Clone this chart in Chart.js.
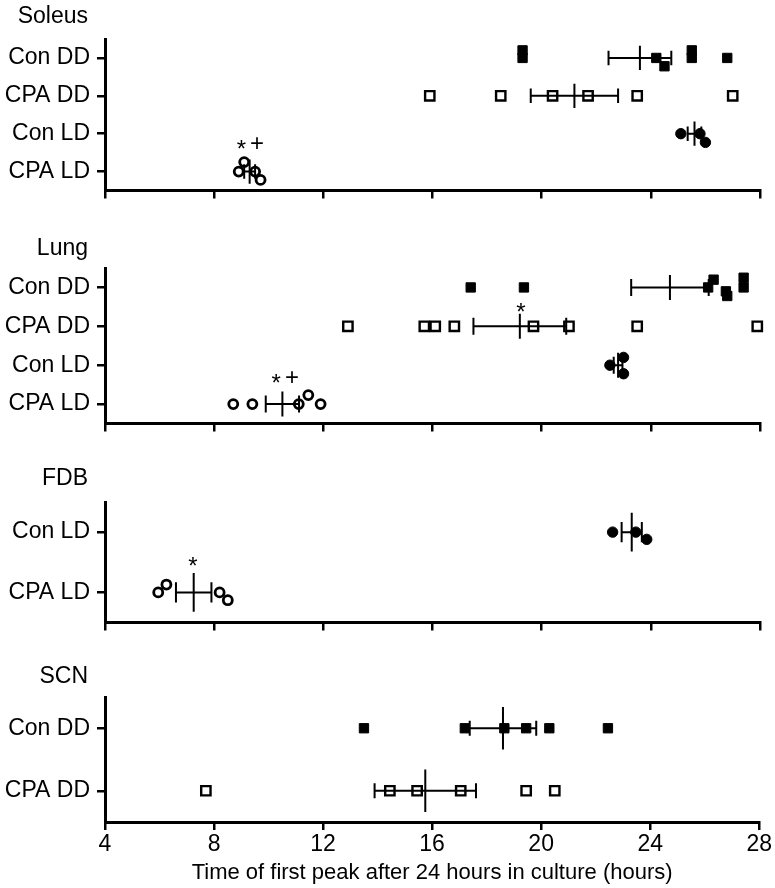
<!DOCTYPE html>
<html>
<head>
<meta charset="utf-8">
<script src="https://cdn.jsdelivr.net/npm/chart.js@4.4.1/dist/chart.umd.min.js"></script>
<style>
  body { margin: 0; background: #fff; }
  #wrap { position: relative; width: 775px; height: 888px; }
  #wrap canvas { position: absolute; left: 0; }
</style>
</head>
<body>
<div id="wrap">
  <canvas id="soleus"></canvas>
  <canvas id="lung"></canvas>
  <canvas id="fdb"></canvas>
  <canvas id="scn"></canvas>
</div>
<script>
// x axis (hours), shared by all four panels
const xTicks = [4, 8, 12, 16, 20, 24, 28];
const xTitle = "Time of first peak after 24 hours in culture (hours)";

// Soleus
const soleusGroups = ["Con DD", "CPA DD", "Con LD", "CPA LD"];
const soleusConDD = [19.3, 19.3, 24.2, 24.5, 25.5, 25.5, 26.8];
const soleusConDDShift = [-0.2, 0, 0, 0.22, -0.2, 0, 0];
const soleusCpaDD = [15.9, 18.5, 20.4, 21.7, 23.5, 27.0];
const soleusConLD = [25.1, 25.8, 26.0];
const soleusConLDShift = [0, 0, 0.23];
const soleusCpaLD = [8.9, 9.1, 9.5, 9.7];
const soleusCpaLDShift = [0, -0.25, 0, 0.22];
const soleusMean = [23.6, 21.2, 25.6, 9.3];
const soleusSem = [1.15, 1.6, 0.25, 0.2];
const soleusMarks = [{ x: 9.0, y: 2.28, t: "*" }, { x: 9.57, y: 2.28, t: "+" }];

// Lung
const lungGroups = ["Con DD", "CPA DD", "Con LD", "CPA LD"];
const lungConDD = [17.4, 19.35, 26.1, 26.3, 26.75, 26.8, 27.4, 27.4];
const lungConDDShift = [0, 0, 0, -0.2, 0.1, 0.22, -0.25, 0];
const lungCpaDD = [12.9, 15.7, 16.1, 16.8, 19.7, 21.0, 23.5, 27.9];
const lungConLD = [22.5, 23.0, 23.0];
const lungConLDShift = [0, -0.2, 0.22];
const lungCpaLD = [8.7, 9.4, 11.1, 11.45, 11.9];
const lungCpaLDShift = [0, 0, 0, -0.23, 0];
const lungMean = [24.7, 19.2, 22.8, 10.5];
const lungSem = [1.42, 1.7, 0.16, 0.61];
const lungMarks = [
  { x: 10.27, y: 2.34, t: "*" },
  { x: 10.85, y: 2.34, t: "+" },
  { x: 19.24, y: 0.5, t: "*" },
];

// FDB
const fdbGroups = ["Con LD", "CPA LD"];
const fdbConLD = [22.6, 23.45, 23.85];
const fdbConLDShift = [0, 0, 0.12];
const fdbCpaLD = [5.95, 6.25, 8.2, 8.5];
const fdbCpaLDShift = [0, -0.13, 0, 0.13];
const fdbMean = [23.3, 7.25];
const fdbSem = [0.37, 0.65];
const fdbMarks = [{ x: 7.22, y: 0.48, t: "*" }];

// SCN
const scnGroups = ["Con DD", "CPA DD"];
const scnConDD = [13.5, 17.2, 18.65, 19.45, 20.3, 22.45];
const scnCpaDD = [7.7, 14.45, 15.45, 17.05, 19.45, 20.5];
const scnMean = [18.6, 15.75];
const scnSem = [1.22, 1.86];

const FONT = "'Liberation Sans', Arial, sans-serif";
Chart.defaults.font.family = FONT;
Chart.defaults.color = "#000";

function makeSets(groups, values, shifts) {
  return groups.map((g, i) => {
    const filled = g.startsWith("Con");
    const square = g.endsWith("DD");
    return {
      label: g,
      data: values[i].map((v, k) => ({ x: v, y: i + (shifts[i] ? shifts[i][k] : 0) })),
      pointStyle: square ? "rect" : "circle",
      pointRadius: square ? 6.6 : filled ? 5.2 : 4.5,
      borderWidth: filled ? 1 : square ? 2.4 : 2.8,
      backgroundColor: filled ? "#000" : "rgba(0,0,0,0)",
      borderColor: "#000",
      clip: false,
    };
  });
}

// mean line, SEM bar, significance marks and panel title
const panelDecor = {
  id: "panelDecor",
  afterDatasetsDraw(chart, args, opts) {
    const ctx = chart.ctx;
    const xs = chart.scales.x;
    const ys = chart.scales.y;
    const unit = Math.abs(ys.getPixelForValue(1) - ys.getPixelForValue(0));
    ctx.save();
    ctx.strokeStyle = "#000";
    ctx.lineWidth = 2;
    opts.mean.forEach((m, i) => {
      const y = ys.getPixelForValue(i);
      const x0 = xs.getPixelForValue(m - opts.sem[i]);
      const x1 = xs.getPixelForValue(m + opts.sem[i]);
      const xm = xs.getPixelForValue(m);
      const cap = opts.capHalf * unit;
      const bar = opts.meanHalf * unit;
      ctx.beginPath();
      ctx.moveTo(x0, y); ctx.lineTo(x1, y);
      ctx.moveTo(x0, y - cap); ctx.lineTo(x0, y + cap);
      ctx.moveTo(x1, y - cap); ctx.lineTo(x1, y + cap);
      ctx.moveTo(xm, y - bar); ctx.lineTo(xm, y + bar);
      ctx.stroke();
    });
    ctx.fillStyle = "#000";
    ctx.font = "24px " + FONT;
    ctx.textAlign = "center";
    ctx.textBaseline = "middle";
    opts.marks.forEach((mk) => {
      const dy = mk.t === "*" ? 6 : 0;
      ctx.fillText(mk.t, xs.getPixelForValue(mk.x), ys.getPixelForValue(mk.y) + dy);
    });
    ctx.font = "23px " + FONT;
    ctx.textAlign = "right";
    ctx.textBaseline = "alphabetic";
    ctx.fillText(opts.title, 88, opts.titleY);
    ctx.restore();
  },
};

function buildPanel(id, cfg) {
  const el = document.getElementById(id);
  el.width = 775;
  el.height = cfg.height;
  el.style.top = cfg.top + "px";
  const groups = cfg.groups;
  return new Chart(el, {
    type: "scatter",
    data: { datasets: makeSets(groups, cfg.values, cfg.shifts) },
    options: {
      responsive: false,
      animation: false,
      events: [],
      layout: { padding: { top: 39, right: 15, left: 0, bottom: 0 } },
      plugins: {
        legend: { display: false },
        tooltip: { enabled: false },
        panelDecor: {
          title: cfg.title,
          titleY: cfg.titleY,
          mean: cfg.mean,
          sem: cfg.sem,
          marks: cfg.marks || [],
          capHalf: cfg.capHalf,
          meanHalf: cfg.meanHalf,
        },
      },
      scales: {
        x: {
          type: "linear",
          min: xTicks[0],
          max: xTicks[xTicks.length - 1],
          afterBuildTicks: (s) => { s.ticks = xTicks.map((v) => ({ value: v })); },
          ticks: {
            display: cfg.showX,
            autoSkip: false,
            maxRotation: 0,
            padding: 3,
            color: "#000",
            font: { size: 23, lineHeight: 1 },
          },
          grid: { drawOnChartArea: false, drawTicks: true, tickLength: 8, color: "#000", lineWidth: 2.5 },
          border: { display: true, color: "#000", width: 3 },
          title: {
            display: cfg.showX,
            text: xTitle,
            color: "#000",
            font: { size: 22, lineHeight: 1.2 },
            padding: { top: 4, bottom: 2 },
          },
          afterFit: (s) => { s.height = cfg.xHeight; },
        },
        y: {
          type: "linear",
          reverse: true,
          min: -0.5,
          max: groups.length - 0.5,
          afterBuildTicks: (s) => { s.ticks = groups.map((g, i) => ({ value: i })); },
          ticks: {
            autoSkip: false,
            padding: 7,
            color: "#000",
            font: { size: 23, lineHeight: 1 },
            callback: (v, i) => groups[i],
          },
          grid: { drawOnChartArea: false, drawTicks: true, tickLength: 8, color: "#000", lineWidth: 2.5 },
          border: { display: true, color: "#000", width: 3 },
          afterFit: (s) => { s.width = 105; },
        },
      },
    },
    plugins: [panelDecor],
  });
}

buildPanel("soleus", {
  title: "Soleus", titleY: 23, top: 0, height: 209, xHeight: 12, showX: false,
  groups: soleusGroups,
  values: [soleusConDD, soleusCpaDD, soleusConLD, soleusCpaLD],
  shifts: [soleusConDDShift, null, soleusConLDShift, soleusCpaLDShift],
  mean: soleusMean, sem: soleusSem, marks: soleusMarks,
  capHalf: 0.19, meanHalf: 0.32,
});

buildPanel("lung", {
  title: "Lung", titleY: 26, top: 229, height: 213, xHeight: 12, showX: false,
  groups: lungGroups,
  values: [lungConDD, lungCpaDD, lungConLD, lungCpaLD],
  shifts: [lungConDDShift, null, lungConLDShift, lungCpaLDShift],
  mean: lungMean, sem: lungSem, marks: lungMarks,
  capHalf: 0.22, meanHalf: 0.32,
});

buildPanel("fdb", {
  title: "FDB", titleY: 22, top: 463, height: 178, xHeight: 12, showX: false,
  groups: fdbGroups,
  values: [fdbConLD, fdbCpaLD],
  shifts: [fdbConLDShift, fdbCpaLDShift],
  mean: fdbMean, sem: fdbSem, marks: fdbMarks,
  capHalf: 0.17, meanHalf: 0.32,
});

buildPanel("scn", {
  title: "SCN", titleY: 25, top: 658, height: 230, xHeight: 66, showX: true,
  groups: scnGroups,
  values: [scnConDD, scnCpaDD],
  shifts: [null, null],
  mean: scnMean, sem: scnSem, marks: [],
  capHalf: 0.12, meanHalf: 0.34,
});
</script>
</body>
</html>
